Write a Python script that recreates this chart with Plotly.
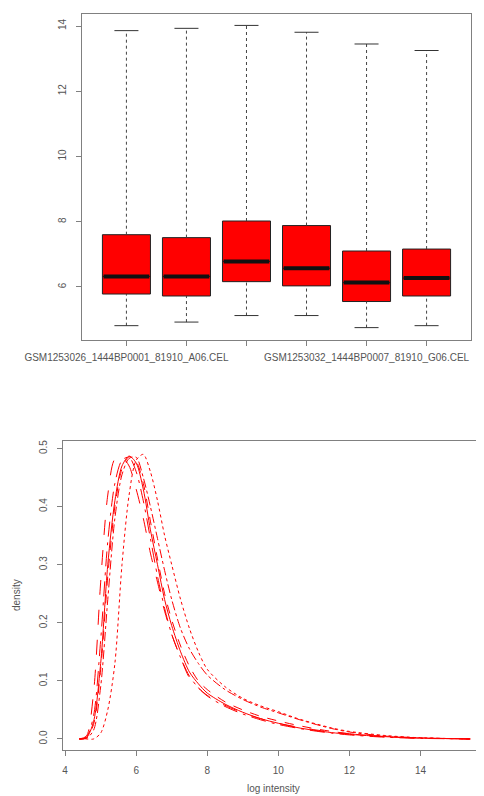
import plotly.graph_objects as go

# ---------------- Box plot data ----------------
samples = [
    "GSM1253026_1444BP0001_81910_A06.CEL",
    "GSM1253027_1444BP0002_81910_B06.CEL",
    "GSM1253028_1444BP0003_81910_C06.CEL",
    "GSM1253029_1444BP0004_81910_D06.CEL",
    "GSM1253032_1444BP0007_81910_G06.CEL",
    "GSM1253033_1444BP0008_81910_H06.CEL",
]
shown_labels = [samples[0], "", "", "", samples[4], ""]
box_pos = [1, 2, 3, 4, 5, 6]
lower_whisker = [4.81, 4.92, 5.12, 5.12, 4.75, 4.81]
q1 = [5.78, 5.72, 6.16, 6.03, 5.55, 5.72]
median = [6.32, 6.32, 6.78, 6.57, 6.13, 6.27]
q3 = [7.60, 7.51, 8.02, 7.88, 7.10, 7.16]
upper_whisker = [13.86, 13.93, 14.02, 13.81, 13.45, 13.25]
box_y_ticks = [6, 8, 10, 12, 14]

# ---------------- Density data ----------------
log_intensity = [4.4, 4.6, 4.8, 5.0, 5.2, 5.4, 5.6, 5.8, 6.0, 6.2, 6.4, 6.6, 6.8, 7.0,
                 7.25, 7.5, 7.75, 8.0, 8.5, 9.0, 9.5, 10.0, 10.5, 11.0, 11.5, 12.0,
                 13.0, 14.0, 15.0, 15.4]
dens_s1 = [0, 0.002, 0.03, 0.13, 0.30, 0.41, 0.47, 0.487, 0.475, 0.43, 0.36, 0.30, 0.24, 0.195,
           0.15, 0.115, 0.095, 0.079, 0.06, 0.046, 0.035, 0.027, 0.02, 0.015, 0.011, 0.008,
           0.004, 0.0015, 0.0004, 0]
dens_s2 = [0, 0.002, 0.025, 0.12, 0.28, 0.40, 0.465, 0.486, 0.478, 0.44, 0.375, 0.31, 0.25, 0.205,
           0.16, 0.125, 0.10, 0.085, 0.064, 0.05, 0.039, 0.031, 0.024, 0.018, 0.013, 0.009,
           0.004, 0.0015, 0.0004, 0]
dens_s3 = [0, 0, 0, 0.01, 0.05, 0.13, 0.30, 0.42, 0.48, 0.49, 0.46, 0.41, 0.35, 0.30,
           0.24, 0.19, 0.15, 0.12, 0.09, 0.07, 0.057, 0.047, 0.036, 0.027, 0.019, 0.013,
           0.006, 0.002, 0.0005, 0]
dens_s4 = [0, 0.001, 0.015, 0.09, 0.24, 0.38, 0.455, 0.483, 0.485, 0.45, 0.40, 0.345, 0.29, 0.24,
           0.19, 0.155, 0.13, 0.11, 0.085, 0.068, 0.055, 0.045, 0.035, 0.026, 0.018, 0.012,
           0.005, 0.002, 0.0005, 0]
dens_s5 = [0, 0.005, 0.08, 0.27, 0.42, 0.482, 0.485, 0.47, 0.43, 0.38, 0.32, 0.27, 0.22, 0.18,
           0.14, 0.105, 0.088, 0.075, 0.058, 0.045, 0.035, 0.027, 0.021, 0.016, 0.012, 0.009,
           0.004, 0.0015, 0.0004, 0]
dens_s6 = [0, 0.003, 0.04, 0.17, 0.34, 0.44, 0.48, 0.485, 0.46, 0.41, 0.345, 0.28, 0.225, 0.18,
           0.14, 0.108, 0.088, 0.074, 0.056, 0.043, 0.033, 0.025, 0.019, 0.014, 0.010, 0.007,
           0.003, 0.001, 0.0003, 0]
density_series = [dens_s1, dens_s2, dens_s3, dens_s4, dens_s5, dens_s6]
density_dashes = ["solid", "dash", "dot", "dashdot", "longdash", "longdashdot"]
dens_x_ticks = [4, 6, 8, 10, 12, 14]
dens_y_ticks = [0.0, 0.1, 0.2, 0.3, 0.4, 0.5]

W, H = 484, 796
OFF = 8  # page body margin offset
FONT = "Liberation Sans, Arial, sans-serif"
TICKCOL = "#555555"
FRAME = "#808080"


def px_x(p):
    return (p - OFF) / W


def px_y(p):
    return 1 - (p - OFF) / H


fig = go.Figure()

BOX_W = 0.8
CAP = 0.2
for i in range(len(box_pos)):
    fig.add_trace(go.Box(
        x=[box_pos[i]], q1=[q1[i]], median=[median[i]], q3=[q3[i]],
        lowerfence=[q1[i]], upperfence=[q3[i]],
        width=BOX_W, fillcolor="#FF0000", line=dict(color="#222222", width=1),
        whiskerwidth=0, boxpoints=False, showlegend=False, hoverinfo="skip",
        xaxis="x", yaxis="y"))

wx, wy = [], []
for i in range(len(box_pos)):
    wx += [box_pos[i], box_pos[i], None, box_pos[i], box_pos[i], None]
    wy += [q3[i], upper_whisker[i], None, lower_whisker[i], q1[i], None]
fig.add_trace(go.Scatter(x=wx, y=wy, mode="lines",
                         line=dict(color="#444444", width=1, dash="3px,3px"),
                         showlegend=False, hoverinfo="skip", xaxis="x", yaxis="y"))
cx, cy = [], []
for i in range(len(box_pos)):
    cx += [box_pos[i] - CAP, box_pos[i] + CAP, None, box_pos[i] - CAP, box_pos[i] + CAP, None]
    cy += [upper_whisker[i], upper_whisker[i], None, lower_whisker[i], lower_whisker[i], None]
fig.add_trace(go.Scatter(x=cx, y=cy, mode="lines",
                         line=dict(color="#333333", width=1),
                         showlegend=False, hoverinfo="skip", xaxis="x", yaxis="y"))
mx, my = [], []
for i in range(len(box_pos)):
    mx += [box_pos[i] - BOX_W / 2 + 0.02, box_pos[i] + BOX_W / 2 - 0.02, None]
    my += [median[i], median[i], None]
fig.add_trace(go.Scatter(x=mx, y=my, mode="lines",
                         line=dict(color="#111111", width=4),
                         showlegend=False, hoverinfo="skip", xaxis="x", yaxis="y"))

for ys, d in zip(density_series, density_dashes):
    fig.add_trace(go.Scatter(x=log_intensity, y=ys, mode="lines",
                             line=dict(color="#FF0000", width=1, dash=d, shape="spline",
                                       smoothing=0.8),
                             showlegend=False, hoverinfo="skip", xaxis="x2", yaxis="y2"))

axis_common = dict(showline=True, linecolor=FRAME, linewidth=1, mirror=True,
                   ticks="outside", ticklen=5, tickcolor=FRAME, tickwidth=1,
                   showgrid=False, zeroline=False, automargin=False,
                   tickfont=dict(family=FONT, size=10, color=TICKCOL))

fig.update_layout(
    width=W, height=H,
    margin=dict(l=0, r=0, t=0, b=0),
    paper_bgcolor="white", plot_bgcolor="white",
    font=dict(family=FONT, color=TICKCOL),
    xaxis=dict(domain=[px_x(82), px_x(471)], range=[0.26, 6.74],
               tickmode="array", tickvals=box_pos, ticktext=shown_labels,
               tickangle=0, ticklabelstandoff=3, anchor="y", **axis_common),
    yaxis=dict(domain=[px_y(340), px_y(14)], range=[4.37, 14.37],
               tickmode="array", tickvals=box_y_ticks, tickangle=-90,
               ticklabelstandoff=6, anchor="x", **axis_common),
    xaxis2=dict(domain=[px_x(63), px_x(483)], range=[3.94, 15.76],
                tickmode="array", tickvals=dens_x_ticks, tickangle=0,
                ticklabelstandoff=6, anchor="y2", **axis_common),
    yaxis2=dict(domain=[px_y(750), px_y(441)], range=[-0.019, 0.513],
                tickmode="array", tickvals=dens_y_ticks, tickformat=".1f",
                tickangle=-90, ticklabelstandoff=6, anchor="x2", **axis_common),
    annotations=[
        dict(text="log intensity", xref="paper", yref="paper",
             x=px_x(273), y=px_y(788), xanchor="center", yanchor="middle",
             showarrow=False, font=dict(family=FONT, size=10, color=TICKCOL)),
        dict(text="density", xref="paper", yref="paper", textangle=-90,
             x=px_x(16), y=px_y(595), xanchor="center", yanchor="middle",
             showarrow=False, font=dict(family=FONT, size=10, color=TICKCOL)),
    ],
)

fig.write_html("out.html")
